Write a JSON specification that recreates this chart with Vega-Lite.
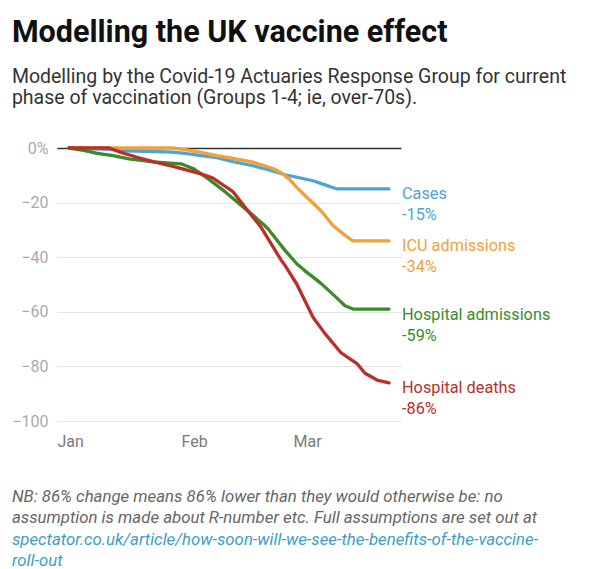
{
  "$schema": "https://vega.github.io/schema/vega-lite/v6.json",
  "background": "white",
  "padding": {"left": 11, "top": 17, "right": 5, "bottom": 0},
  "title": {
    "text": "Modelling the UK vaccine effect",
    "subtitle": [
      "Modelling by the Covid-19 Actuaries Response Group for current",
      "phase of vaccination (Groups 1-4; ie, over-70s)."
    ],
    "anchor": "start",
    "font": "Roboto",
    "fontSize": 30.5,
    "fontWeight": "bold",
    "color": "#111111",
    "subtitleFont": "Roboto",
    "subtitleFontSize": 19.5,
    "subtitleColor": "#333333",
    "subtitleLineHeight": 21.7,
    "subtitlePadding": 19.5,
    "offset": 32
  },
  "config": {
    "font": "Roboto",
    "view": {"stroke": null}
  },
  "data": {
    "values": [
      {"series": "Cases", "date": "2021-01-04", "value": 0},
      {"series": "Cases", "date": "2021-01-14", "value": -0.5},
      {"series": "Cases", "date": "2021-01-18", "value": -1},
      {"series": "Cases", "date": "2021-01-30", "value": -1.5},
      {"series": "Cases", "date": "2021-02-02", "value": -2},
      {"series": "Cases", "date": "2021-02-06", "value": -2.8},
      {"series": "Cases", "date": "2021-02-10", "value": -3.5},
      {"series": "Cases", "date": "2021-02-14", "value": -5},
      {"series": "Cases", "date": "2021-02-19", "value": -6.5},
      {"series": "Cases", "date": "2021-02-23", "value": -8},
      {"series": "Cases", "date": "2021-02-27", "value": -9.8},
      {"series": "Cases", "date": "2021-03-03", "value": -11},
      {"series": "Cases", "date": "2021-03-06", "value": -12},
      {"series": "Cases", "date": "2021-03-09", "value": -13.5},
      {"series": "Cases", "date": "2021-03-12", "value": -15},
      {"series": "Cases", "date": "2021-03-25", "value": -15, "label": "Cases\n-15%"},

      {"series": "ICU admissions", "date": "2021-01-04", "value": 0},
      {"series": "ICU admissions", "date": "2021-01-30", "value": 0},
      {"series": "ICU admissions", "date": "2021-02-02", "value": -0.6},
      {"series": "ICU admissions", "date": "2021-02-06", "value": -1.6},
      {"series": "ICU admissions", "date": "2021-02-10", "value": -2.8},
      {"series": "ICU admissions", "date": "2021-02-14", "value": -3.8},
      {"series": "ICU admissions", "date": "2021-02-19", "value": -5.2},
      {"series": "ICU admissions", "date": "2021-02-24", "value": -7.5},
      {"series": "ICU admissions", "date": "2021-02-26", "value": -9},
      {"series": "ICU admissions", "date": "2021-02-28", "value": -11.3},
      {"series": "ICU admissions", "date": "2021-03-02", "value": -14.5},
      {"series": "ICU admissions", "date": "2021-03-04", "value": -17.4},
      {"series": "ICU admissions", "date": "2021-03-08", "value": -23},
      {"series": "ICU admissions", "date": "2021-03-11", "value": -28.4},
      {"series": "ICU admissions", "date": "2021-03-14", "value": -32},
      {"series": "ICU admissions", "date": "2021-03-16", "value": -34},
      {"series": "ICU admissions", "date": "2021-03-25", "value": -34, "label": "ICU  admissions\n-34%"},

      {"series": "Hospital admissions", "date": "2021-01-04", "value": 0},
      {"series": "Hospital admissions", "date": "2021-01-08", "value": -1},
      {"series": "Hospital admissions", "date": "2021-01-11", "value": -2},
      {"series": "Hospital admissions", "date": "2021-01-15", "value": -2.8},
      {"series": "Hospital admissions", "date": "2021-01-19", "value": -4},
      {"series": "Hospital admissions", "date": "2021-01-25", "value": -5.1},
      {"series": "Hospital admissions", "date": "2021-02-01", "value": -5.8},
      {"series": "Hospital admissions", "date": "2021-02-04", "value": -7.5},
      {"series": "Hospital admissions", "date": "2021-02-08", "value": -11.5},
      {"series": "Hospital admissions", "date": "2021-02-12", "value": -16},
      {"series": "Hospital admissions", "date": "2021-02-18", "value": -23.4},
      {"series": "Hospital admissions", "date": "2021-02-22", "value": -28.5},
      {"series": "Hospital admissions", "date": "2021-02-23", "value": -30},
      {"series": "Hospital admissions", "date": "2021-02-27", "value": -37.5},
      {"series": "Hospital admissions", "date": "2021-03-02", "value": -42.5},
      {"series": "Hospital admissions", "date": "2021-03-04", "value": -45},
      {"series": "Hospital admissions", "date": "2021-03-08", "value": -49.6},
      {"series": "Hospital admissions", "date": "2021-03-12", "value": -55},
      {"series": "Hospital admissions", "date": "2021-03-14", "value": -57.8},
      {"series": "Hospital admissions", "date": "2021-03-16", "value": -59},
      {"series": "Hospital admissions", "date": "2021-03-25", "value": -59, "label": "Hospital admissions\n-59%"},

      {"series": "Hospital deaths", "date": "2021-01-04", "value": 0},
      {"series": "Hospital deaths", "date": "2021-01-14", "value": 0},
      {"series": "Hospital deaths", "date": "2021-01-17", "value": -1.6},
      {"series": "Hospital deaths", "date": "2021-01-21", "value": -3.4},
      {"series": "Hospital deaths", "date": "2021-01-25", "value": -5},
      {"series": "Hospital deaths", "date": "2021-01-30", "value": -6.7},
      {"series": "Hospital deaths", "date": "2021-02-03", "value": -8.3},
      {"series": "Hospital deaths", "date": "2021-02-06", "value": -9.5},
      {"series": "Hospital deaths", "date": "2021-02-09", "value": -11},
      {"series": "Hospital deaths", "date": "2021-02-11", "value": -13},
      {"series": "Hospital deaths", "date": "2021-02-14", "value": -16},
      {"series": "Hospital deaths", "date": "2021-02-18", "value": -23.5},
      {"series": "Hospital deaths", "date": "2021-02-21", "value": -29},
      {"series": "Hospital deaths", "date": "2021-02-26", "value": -41},
      {"series": "Hospital deaths", "date": "2021-02-27", "value": -43},
      {"series": "Hospital deaths", "date": "2021-03-02", "value": -50},
      {"series": "Hospital deaths", "date": "2021-03-03", "value": -53},
      {"series": "Hospital deaths", "date": "2021-03-06", "value": -62},
      {"series": "Hospital deaths", "date": "2021-03-09", "value": -68},
      {"series": "Hospital deaths", "date": "2021-03-13", "value": -75},
      {"series": "Hospital deaths", "date": "2021-03-17", "value": -79},
      {"series": "Hospital deaths", "date": "2021-03-19", "value": -82.5},
      {"series": "Hospital deaths", "date": "2021-03-22", "value": -85},
      {"series": "Hospital deaths", "date": "2021-03-25", "value": -86, "label": "Hospital deaths\n-86%"}
    ]
  },
  "vconcat": [
    {
      "width": 344,
      "height": 273,
      "title": {
        "text": [
          "NB: 86% change means 86% lower than they would otherwise be: no",
          "assumption is made about R-number etc. Full assumptions are set out at"
        ],
        "subtitle": [
          "spectator.co.uk/article/how-soon-will-we-see-the-benefits-of-the-vaccine-",
          "roll-out"
        ],
        "orient": "bottom",
        "anchor": "start",
        "font": "Roboto",
        "fontSize": 16.8,
        "fontStyle": "italic",
        "fontWeight": "normal",
        "color": "#666666",
        "lineHeight": 21.5,
        "subtitleFont": "Roboto",
        "subtitleFontSize": 16.8,
        "subtitleFontStyle": "italic",
        "subtitleColor": "#3e9ec6",
        "subtitleLineHeight": 21.5,
        "subtitlePadding": 5,
        "offset": 39.5
      },
      "layer": [
        {
          "mark": {"type": "line", "strokeWidth": 3.3, "strokeJoin": "round", "strokeCap": "round"},
          "encoding": {
            "x": {
              "field": "date",
              "type": "temporal",
              "scale": {
                "type": "utc",
                "domain": [
                  {"year": 2021, "month": 1, "date": 1, "utc": true},
                  {"year": 2021, "month": 3, "date": 28, "utc": true}
                ]
              },
              "axis": {
                "title": null,
                "format": "%b",
                "tickCount": {"interval": "month", "step": 1},
                "labelAlign": "left",
                "labelColor": "#7a7a7a",
                "labelFontSize": 16,
                "labelPadding": 12,
                "ticks": false,
                "domain": false,
                "grid": false
              }
            },
            "y": {
              "field": "value",
              "type": "quantitative",
              "scale": {"domain": [-100, 0], "nice": false},
              "axis": {
                "title": null,
                "values": [-100, -80, -60, -40, -20, 0],
                "labelExpr": "datum.value === 0 ? '0%' : datum.label",
                "labelColor": "#aaaaaa",
                "labelFontSize": 16,
                "labelPadding": 9,
                "ticks": false,
                "domain": false,
                "gridColor": {"condition": {"test": "datum.value === 0", "value": "#333333"}, "value": "#e4e4e4"},
                "gridWidth": {"condition": {"test": "datum.value === 0", "value": 1.4}, "value": 1}
              }
            },
            "color": {
              "field": "series",
              "type": "nominal",
              "scale": {
                "domain": ["Cases", "ICU admissions", "Hospital admissions", "Hospital deaths"],
                "range": ["#4fa3d1", "#f0a13a", "#3b8b2b", "#bb2f2a"]
              },
              "legend": null
            }
          }
        },
        {
          "transform": [{"filter": "isValid(datum.label)"}],
          "mark": {
            "type": "text",
            "align": "left",
            "baseline": "top",
            "dx": 13,
            "dy": -2.5,
            "fontSize": 16.3,
            "lineHeight": 21,
            "lineBreak": "\n"
          },
          "encoding": {
            "x": {"field": "date", "type": "temporal"},
            "y": {"field": "value", "type": "quantitative"},
            "text": {"field": "label"},
            "color": {"field": "series", "type": "nominal", "legend": null}
          }
        }
      ]
    }
  ]
}
